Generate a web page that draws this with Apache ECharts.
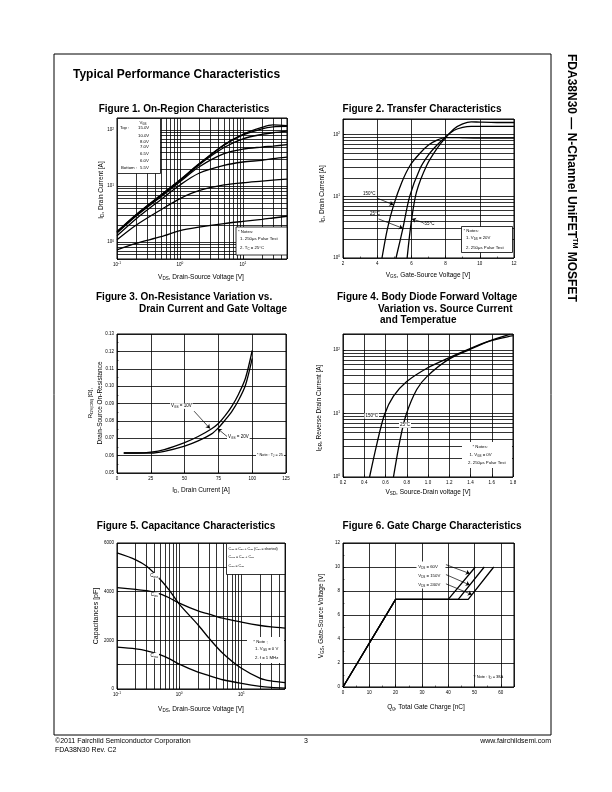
<!DOCTYPE html>
<html><head><meta charset="utf-8">
<script src="https://cdn.jsdelivr.net/npm/echarts@6/dist/echarts.min.js"></script>
<style>html,body{margin:0;padding:0;background:#fff}#c{width:612px;height:792px}</style>
</head><body><div id="c"></div>
<script>
const F = "'Liberation Sans', Arial, Helvetica, sans-serif";

// ---------- Figure 1: On-Region Characteristics ----------
const fig1Vds = [0.1, 0.2, 0.5, 1, 2, 5, 10, 20, 30, 50];
const fig1Id15 = [1.55, 3.1, 7.0, 13, 25, 55, 84, 112, 124, 121];
const fig1Id10 = [1.5, 3.05, 6.9, 12.8, 24.5, 54, 82, 106, 115, 117];
const fig1Id8 = [1.5, 3.0, 6.8, 12.5, 24, 49, 70, 84, 90, 96];
const fig1Id7 = [1.45, 2.9, 6.5, 12, 22, 38, 46, 50, 52, 55];
const fig1Id65 = [1.3, 2.6, 5.8, 10.5, 17, 23.5, 27, 29, 31, 33];
const fig1Id6 = [1.1, 2.0, 3.8, 6.0, 8.3, 10.5, 11.5, 12.3, 12.8, 13.4];
const fig1Id55 = [0.73, 0.95, 1.25, 1.6, 1.85, 2.15, 2.35, 2.55, 2.7, 2.9];
const fig1GridX = [0.2,0.3,0.4,0.5,0.6,0.7,0.8,0.9,2,3,4,5,6,7,8,9,20,30,40];
const fig1GridY = [0.6,0.7,0.8,0.9,2,3,4,5,6,7,8,9,20,30,40,50,60,70,80,90];

// ---------- Figure 2: Transfer Characteristics ----------
const fig2Vgs150 = [4.28, 4.6, 4.96, 5.44, 5.93, 6.5, 7.0, 7.5, 8.0, 8.5, 9.0, 10, 12];
const fig2Id150 = [1, 3, 7.2, 17, 32, 50, 68, 82, 90, 90, 89, 88, 88];
const fig2Vgs25 = [5.1, 5.5, 5.9, 6.5, 7.0, 7.5, 8.0, 8.5, 9.0, 9.5, 10, 12];
const fig2Id25 = [1, 3, 10, 28, 47, 68, 92, 118, 132, 137, 137, 137];
const fig2VgsM55 = [5.75, 6.0, 6.3, 6.9, 7.5, 8.0, 8.5, 9.0, 9.5, 10, 11, 12];
const fig2IdM55 = [1, 4, 11.8, 32, 60, 90, 125, 150, 162, 160, 158, 158];
const fig2GridY = [2,3,4,5,6,7,8,9,20,30,40,50,60,70,80,90];
const fig2Arrows = [[[3.98, 9.4], [4.95, 7.3]], [[4.08, 4.3], [5.5, 3.03]], [[6.7, 3.75], [6.03, 4.3]]];

// ---------- Figure 3: On-Resistance ----------
const fig3Id = [5, 15, 25, 35, 50, 60, 70, 75, 80, 85, 90, 95, 100];
const fig3R10 = [0.0615, 0.0615, 0.062, 0.0635, 0.0675, 0.071, 0.0755, 0.0785, 0.083, 0.0885, 0.0955, 0.1045, 0.1205];
const fig3R20 = [0.0615, 0.0615, 0.0615, 0.0625, 0.0655, 0.0685, 0.0725, 0.076, 0.0805, 0.0855, 0.092, 0.1005, 0.116];
const fig3Arrows = [[[57, 0.0856], [68.75, 0.0756]], [[82, 0.0706], [74.5, 0.0755]]];

// ---------- Figure 4: Body Diode ----------
const fig4Vsd150 = [0.45, 0.52, 0.59, 0.675, 0.8, 0.99, 1.19, 1.39, 1.58, 1.77];
const fig4Isd150 = [1, 3.4, 9.6, 18.8, 32, 52, 75, 105, 140, 177];
const fig4Vsd25 = [0.675, 0.7375, 0.794, 0.894, 0.994, 1.19, 1.39, 1.58, 1.8];
const fig4Isd25 = [1, 3.9, 9.6, 24, 39, 71, 102, 139, 170];
const fig4GridY = [2,3,4,5,6,7,8,9,20,30,40,50,60,70,80,90];

// ---------- Figure 5: Capacitance ----------
const fig5Vds = [0.1, 0.2, 0.3, 0.5, 0.7, 1, 2, 3, 5, 10, 20, 30, 50];
const fig5Coss = [5590, 5310, 5040, 4490, 4040, 3490, 2640, 2090, 1470, 850, 440, 330, 260];
const fig5Ciss = [4170, 4090, 4040, 3900, 3740, 3530, 3210, 3080, 2910, 2750, 2610, 2550, 2500];
const fig5Crss = [1720, 1650, 1570, 1400, 1240, 1020, 690, 550, 380, 230, 110, 70, 40];
const fig5GridX = [0.2,0.3,0.4,0.5,0.6,0.7,0.8,0.9,2,3,4,5,6,7,8,9,20,30,40];

// ---------- Figure 6: Gate Charge ----------
const fig6Vgs = [0, 7.3, 7.3, 10];
const fig6Q60 = [0, 20, 40, 50.3];
const fig6Q150 = [0, 20, 43.8, 53.7];
const fig6Q240 = [0, 20, 47.6, 57.3];
const fig6Arrows = [[[39.1, 10.2], [48.2, 9.45]], [[39.1, 9.37], [48.2, 8.5]], [[39.1, 8.6], [49.0, 7.7]]];

// ---------- helpers ----------
function pow10(v) { const l = Math.log10(v); const e = Math.round(l); return Math.abs(l - e) < 1e-6 ? '10{sup|' + e + '}' : ''; }
function gridML(xs, ys) {
  return { silent: true, symbol: ['none', 'none'], label: { show: false }, animation: false,
    lineStyle: { color: '#000', width: 0.8, type: 'solid' }, emphasis: { disabled: true },
    data: xs.map(v => ({ xAxis: v })).concat(ys.map(v => ({ yAxis: v }))) };
}
function arrowML(list) {
  return { silent: true, symbol: ['none', 'arrow'], symbolSize: 4, label: { show: false }, animation: false,
    lineStyle: { color: '#000', width: 0.7, type: 'solid' }, emphasis: { disabled: true },
    data: list.map(a => [{ coord: a[0] }, { coord: a[1] }]) };
}
const series = [];
function addLine(gi, xs, ys, extra) {
  series.push(Object.assign({ type: 'line', xAxisIndex: gi, yAxisIndex: gi,
    data: xs.map((x, i) => [x, ys[i]]), symbol: 'none', showSymbol: false, smooth: 0.3,
    lineStyle: { color: '#000', width: 1.3 }, silent: true, animation: false, z: 3 }, extra || {}));
}
function ax(o, fmt, minor) {
  const a = Object.assign({
    axisLine: { show: false },
    axisTick: { show: true, inside: true, length: 2.5, lineStyle: { color: '#000', width: 0.7 } },
    splitLine: { show: true, lineStyle: { color: '#000', width: 0.8 } },
    axisLabel: { fontSize: 4.5, color: '#000', fontFamily: F, margin: 3, lineHeight: 6,
      formatter: fmt, rich: { sup: { fontSize: 3.2, lineHeight: 3.2, verticalAlign: 'top', fontFamily: F, color: '#000' } } }
  }, o);
  if (minor) a.minorTick = { show: true, splitNumber: 2, length: 1.5, lineStyle: { color: '#000', width: 0.6 } };
  return a;
}
const grids = [
  { left: 117, top: 118, width: 170, height: 141 },
  { left: 343, top: 119, width: 171, height: 139 },
  { left: 117, top: 334, width: 169, height: 139 },
  { left: 343, top: 334, width: 170, height: 143 },
  { left: 117, top: 543, width: 168, height: 146 },
  { left: 343, top: 543, width: 171, height: 144 }
].map(g => Object.assign({ show: true, borderColor: '#000', borderWidth: 1, backgroundColor: 'transparent', containLabel: false, outerBoundsMode: 'none' }, g));

const xAxis = [
  ax({ type: 'log', logBase: 10, gridIndex: 0, min: 0.1, max: 50 }, pow10),
  ax({ type: 'value', gridIndex: 1, min: 2, max: 12, interval: 2 }, v => String(v), true),
  ax({ type: 'value', gridIndex: 2, min: 0, max: 125, interval: 25 }, v => String(v)),
  ax({ type: 'value', gridIndex: 3, min: 0.2, max: 1.8, interval: 0.2 }, v => v.toFixed(1)),
  ax({ type: 'log', logBase: 10, gridIndex: 4, min: 0.1, max: 50 }, pow10),
  ax({ type: 'value', gridIndex: 5, min: 0, max: 65, interval: 10 }, v => (v > 60 ? '' : String(v)), true)
];
const yAxis = [
  ax({ type: 'log', logBase: 10, gridIndex: 0, min: 0.5, max: 165 }, pow10),
  ax({ type: 'log', logBase: 10, gridIndex: 1, min: 1, max: 180 }, pow10),
  ax({ type: 'value', gridIndex: 2, min: 0.05, max: 0.13, interval: 0.01 }, v => v.toFixed(2), true),
  ax({ type: 'log', logBase: 10, gridIndex: 3, min: 1, max: 180 }, pow10),
  ax({ type: 'value', gridIndex: 4, min: 0, max: 6000, interval: 1000 }, v => (Math.round(v) % 2000 === 0 ? String(Math.round(v)) : '')),
  ax({ type: 'value', gridIndex: 5, min: 0, max: 12, interval: 2 }, v => String(v), true)
];

addLine(0, fig1Vds, fig1Id15, { markLine: gridML(fig1GridX, fig1GridY) });
addLine(0, fig1Vds, fig1Id10);
addLine(0, fig1Vds, fig1Id8);
addLine(0, fig1Vds, fig1Id7);
addLine(0, fig1Vds, fig1Id65);
addLine(0, fig1Vds, fig1Id6);
addLine(0, fig1Vds, fig1Id55);
addLine(1, fig2Vgs150, fig2Id150, { markLine: gridML([], fig2GridY) });
addLine(1, fig2Vgs25, fig2Id25, { markLine: arrowML(fig2Arrows) });
addLine(1, fig2VgsM55, fig2IdM55);
addLine(2, fig3Id, fig3R10, { markLine: arrowML(fig3Arrows) });
addLine(2, fig3Id, fig3R20);
addLine(3, fig4Vsd150, fig4Isd150, { markLine: gridML([], fig4GridY) });
addLine(3, fig4Vsd25, fig4Isd25);
addLine(4, fig5Vds, fig5Coss, { markLine: gridML(fig5GridX, []) });
addLine(4, fig5Vds, fig5Ciss);
addLine(4, fig5Vds, fig5Crss);
addLine(5, fig6Q60, fig6Vgs, { smooth: false, markLine: arrowML(fig6Arrows) });
addLine(5, fig6Q150, fig6Vgs, { smooth: false });
addLine(5, fig6Q240, fig6Vgs, { smooth: false });

// ---------- text / boxes ----------
function T(x, y, text, o) {
  o = o || {}; const fs = o.fs || 4.5;
  return { type: 'text', x: x, y: y, rotation: o.rot || 0, z: 100, silent: true,
    style: { text: text, fontSize: fs, fontFamily: F, fontWeight: o.fw || 'normal', fill: '#000',
      align: o.align || 'left', verticalAlign: 'middle', lineHeight: fs * 1.25,
      backgroundColor: o.bg || null, padding: o.bg ? [0, 1, 0, 1] : 0,
      rich: { sub: { fontSize: fs * 0.7, lineHeight: fs * 0.7, verticalAlign: 'bottom', fontFamily: F, fill: '#000' },
              sup: { fontSize: fs * 0.6, lineHeight: fs * 0.6, verticalAlign: 'top', fontFamily: F, fill: '#000', fontWeight: o.fw || 'normal' } } } };
}
function R(x, y, w, h, stroke) {
  return { type: 'rect', z: 95, silent: true, shape: { x: x, y: y, width: w, height: h },
    style: { fill: '#fff', stroke: stroke ? '#000' : null, lineWidth: 0.8 } };
}
const PI2 = Math.PI / 2;
const AT = 6.5;
const graphic = [
  { type: 'rect', z: 100, silent: true, shape: { x: 54, y: 54, width: 497, height: 681 }, style: { fill: 'none', stroke: '#000', lineWidth: 1 } },
  T(73, 75, 'Typical Performance Characteristics', { fs: 12, fw: 'bold' }),
  T(571, 54, 'FDA38N30 — N-Channel UniFET{sup|TM} MOSFET', { fs: 12, fw: 'bold', rot: -PI2 }),
  T(55, 741, '©2011 Fairchild Semiconductor Corporation', { fs: 7 }),
  T(55, 750, 'FDA38N30 Rev. C2', { fs: 7 }),
  T(306, 741, '3', { fs: 7, align: 'center' }),
  T(551, 741, 'www.fairchildsemi.com', { fs: 7, align: 'right' }),
  // figure titles
  T(184, 109, 'Figure 1. On-Region Characteristics', { fs: 10, fw: 'bold', align: 'center' }),
  T(422, 109, 'Figure 2. Transfer Characteristics', { fs: 10, fw: 'bold', align: 'center' }),
  T(96, 297, 'Figure 3. On-Resistance Variation vs.', { fs: 10, fw: 'bold' }),
  T(139, 309, 'Drain Current and Gate Voltage', { fs: 10, fw: 'bold' }),
  T(337, 297, 'Figure 4. Body Diode Forward Voltage', { fs: 10, fw: 'bold' }),
  T(378, 309, 'Variation vs. Source Current', { fs: 10, fw: 'bold' }),
  T(380, 320, 'and Temperatue', { fs: 10, fw: 'bold' }),
  T(186, 526, 'Figure 5. Capacitance Characteristics', { fs: 10, fw: 'bold', align: 'center' }),
  T(432, 526, 'Figure 6. Gate Charge Characteristics', { fs: 10, fw: 'bold', align: 'center' }),
  // axis titles
  T(201, 277, 'V{sub|DS}, Drain-Source Voltage [V]', { fs: AT, align: 'center' }),
  T(101, 190, 'I{sub|D}, Drain Current [A]', { fs: AT, align: 'center', rot: PI2 }),
  T(428, 275, 'V{sub|GS}, Gate-Source Voltage [V]', { fs: AT, align: 'center' }),
  T(322.5, 194, 'I{sub|D}, Drain Current [A]', { fs: AT, align: 'center', rot: PI2 }),
  T(201, 490, 'I{sub|D}, Drain Current [A]', { fs: AT, align: 'center' }),
  T(90.5, 403, 'R{sub|DS(ON)} [Ω],', { fs: 6, align: 'center', rot: PI2 }),
  T(100, 403, 'Drain-Source On-Resistance', { fs: AT, align: 'center', rot: PI2 }),
  T(428, 492, 'V{sub|SD}, Source-Drain voltage [V]', { fs: AT, align: 'center' }),
  T(319.5, 408, 'I{sub|DR}, Reverse Drain Current [A]', { fs: AT, align: 'center', rot: PI2 }),
  T(201, 709, 'V{sub|DS}, Drain-Source Voltage [V]', { fs: AT, align: 'center' }),
  T(96.5, 616, 'Capacitances [pF]', { fs: 7, align: 'center', rot: PI2 }),
  T(426, 707, 'Q{sub|g}, Total Gate Charge [nC]', { fs: AT, align: 'center' }),
  T(321.5, 616, 'V{sub|GS}, Gate-Source Voltage [V]', { fs: AT, align: 'center', rot: PI2 }),
  // fig1 legend + notes
  R(117.5, 118.5, 43, 55, true),
  T(143, 123.3, 'V{sub|GS}', { fs: 4.3, align: 'center' }),
  T(120, 128.3, 'Top :', { fs: 4.3 }),
  T(138, 128.3, '15.0V', { fs: 4.3 }),
  T(138, 135.7, '10.0V', { fs: 4.3 }),
  T(140, 141.7, '8.0V', { fs: 4.3 }),
  T(140, 147.3, '7.0V', { fs: 4.3 }),
  T(140, 154, '6.5V', { fs: 4.3 }),
  T(140, 160.7, '6.0V', { fs: 4.3 }),
  T(121, 167.7, 'Bottom :', { fs: 4.3 }),
  T(140, 167.7, '5.5V', { fs: 4.3 }),
  R(236, 227, 51, 28, true),
  T(238, 231.7, '* Notes:', { fs: 4.3 }),
  T(240, 239, '1. 250μs Pulse Test', { fs: 4.3 }),
  T(240, 248, '2. T{sub|C} = 25°C', { fs: 4.3 }),
  // fig2
  R(461.5, 226.5, 51, 26, true),
  T(463.5, 230.5, '* Notes:', { fs: 4.3 }),
  T(466, 238, '1. V{sub|DS} = 20V', { fs: 4.3 }),
  T(466, 247.5, '2. 250μs Pulse Test', { fs: 4.3 }),
  T(363, 194, '150°C', { fs: 4.5 }),
  T(370, 213.3, '25°C', { fs: 4.5 }),
  T(423, 223.3, '-55°C', { fs: 4.5 }),
  // fig3
  T(170, 406, 'V{sub|GS} = 10V', { fs: 4.5, bg: '#fff' }),
  T(227, 437, 'V{sub|GS} = 20V', { fs: 4.5, bg: '#fff' }),
  T(256, 455, '* Note : T{sub|J} = 25', { fs: 3.8, bg: '#fff' }),
  // fig4
  R(462, 442, 50, 26, false),
  T(472.5, 447, '* Notes:', { fs: 4.3 }),
  T(469.5, 454.5, '1. V{sub|GS} = 0V', { fs: 4.3 }),
  T(468, 462.5, '2. 250μs Pulse Test', { fs: 4.3 }),
  T(371.7, 416, '150°C', { fs: 4.5, align: 'center', bg: '#fff' }),
  T(405, 425, '25°C', { fs: 4.5, align: 'center', bg: '#fff' }),
  // fig5
  R(226.5, 543.5, 58.5, 31, true),
  T(228.5, 548.5, 'C{sub|iss} = C{sub|gs} + C{sub|gd} (C{sub|ds} = shorted)', { fs: 3.6 }),
  T(228.5, 557, 'C{sub|oss} = C{sub|ds} + C{sub|gd}', { fs: 3.6 }),
  T(228.5, 566, 'C{sub|rss} = C{sub|gd}', { fs: 3.6 }),
  R(247, 637, 37, 26, false),
  T(253.3, 641.7, '* Note ;', { fs: 4.3 }),
  T(255, 649.3, '1. V{sub|GS} = 0 V', { fs: 4.3 }),
  T(255, 657.7, '2. f = 1 MHz', { fs: 4.3 }),
  T(154.3, 575.7, 'C{sub|oss}', { fs: 4.5, align: 'center', bg: '#fff' }),
  T(154.3, 595, 'C{sub|iss}', { fs: 4.5, align: 'center', bg: '#fff' }),
  T(154.3, 655.7, 'C{sub|rss}', { fs: 4.5, align: 'center', bg: '#fff' }),
  // fig6
  R(416.5, 561.5, 29, 27, false),
  T(418.3, 566.7, 'V{sub|DS} = 60V', { fs: 4.3 }),
  T(418.3, 575.7, 'V{sub|DS} = 150V', { fs: 4.3 }),
  T(418.3, 585, 'V{sub|DS} = 240V', { fs: 4.3 }),
  T(473.3, 677.3, '? Note : I{sub|D} = 38A', { fs: 4 })
];

const chart = echarts.init(document.getElementById('c'), null, { renderer: 'canvas' });
chart.setOption({ animation: false, backgroundColor: '#fff', grid: grids, xAxis: xAxis, yAxis: yAxis, series: series, graphic: graphic });
</script></body></html>
